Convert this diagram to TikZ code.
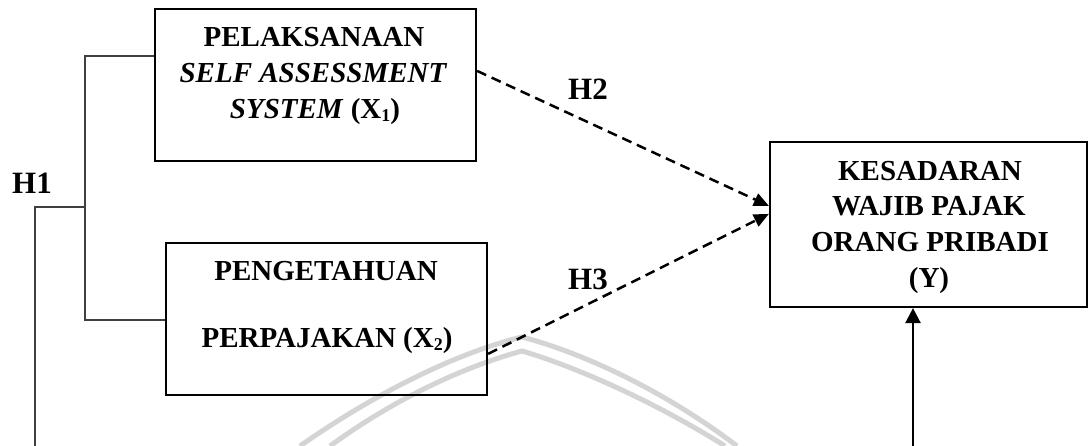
\documentclass[tikz,border=0pt]{standalone}
\usepackage{fontspec}
\setmainfont{Liberation Serif}
\usetikzlibrary{arrows.meta}
\newcommand{\lowsub}[1]{\raisebox{-0.2ex}{\fontsize{18}{20}\selectfont #1}}
\begin{document}
\begin{tikzpicture}[x=1pt,y=-1pt,
  box/.style={draw=black, line width=2.2pt, rectangle, inner sep=0pt},
  txt/.style={font=\fontsize{29}{34}\selectfont\bfseries, inner sep=0pt, anchor=base},
  hyp/.style={font=\fontsize{31}{36}\selectfont\bfseries, inner sep=0pt, anchor=base},
  bracket/.style={draw=black!75, line width=1.4pt},
  dasharrow/.style={line width=2.5pt, dash pattern=on 10pt off 6pt,
    -{Triangle[length=15pt,width=13pt]}},
  solidarrow/.style={line width=2.4pt, -{Triangle[length=15pt,width=15pt]}},
  wmark/.style={draw=black!17, line width=5pt}
]
\useasboundingbox (0,0) rectangle (1088,446);

% faint logo rings in the background
\draw[wmark] (300,446) .. controls (380,390) and (460,352) .. (522,337)
  .. controls (590,355) and (670,395) .. (737,446);
\draw[wmark] (330,446) .. controls (400,395) and (470,365) .. (522,351)
  .. controls (580,368) and (660,405) .. (725,446);

% variable boxes
\node[box, minimum width=321pt, minimum height=152pt] (x1) at (315.5,85) {};
\node[box, minimum width=321pt, minimum height=152pt] (x2) at (326.5,319) {};
\node[box, minimum width=317pt, minimum height=165pt] (y) at (928.5,224.5) {};

% box texts
\node[txt] (x1l1) at (314,47) {PELAKSANAAN};
\node[txt] (x1l2) at (313,83) {\itshape SELF ASSESSMENT};
\node[txt] (x1l3) at (315,119) {\itshape SYSTEM\/ \upshape(X\lowsub{1})};
\node[txt] (x2l1) at (326,281) {PENGETAHUAN};
\node[txt] (x2l2) at (327,348) {PERPAJAKAN (X\lowsub{2})};
\node[txt] (yl1) at (930,181) {KESADARAN};
\node[txt] (yl2) at (929,216) {WAJIB PAJAK};
\node[txt] (yl3) at (930,252) {ORANG PRIBADI};
\node[txt] (yl4) at (929,288) {(Y)};

% hypothesis labels
\node[hyp] (h1) at (32,194) {H1};
\node[hyp] (h2) at (588,100) {H2};
\node[hyp] (h3) at (588,290) {H3};

% H1 bracket joining both independent variables
\coordinate (hj) at (85,207);
\coordinate (h1foot) at (35,446);
\draw[bracket] ([yshift=-48pt]x1.north west) -| (hj) |- ([yshift=-78pt]x2.north west);
\draw[bracket] (hj) -- (hj -| h1foot) -- (h1foot);

% partial effects
\draw[dasharrow] ([yshift=-63pt]x1.north east) -- ([yshift=-65pt]y.north west);
\draw[dasharrow] ([yshift=-112pt]x2.north east) -- ([yshift=-73pt]y.north west);

% joint effect arriving from below
\coordinate (yfoot) at (913,446);
\draw[solidarrow] (yfoot) -- (yfoot |- y.south);
\end{tikzpicture}
\end{document}
